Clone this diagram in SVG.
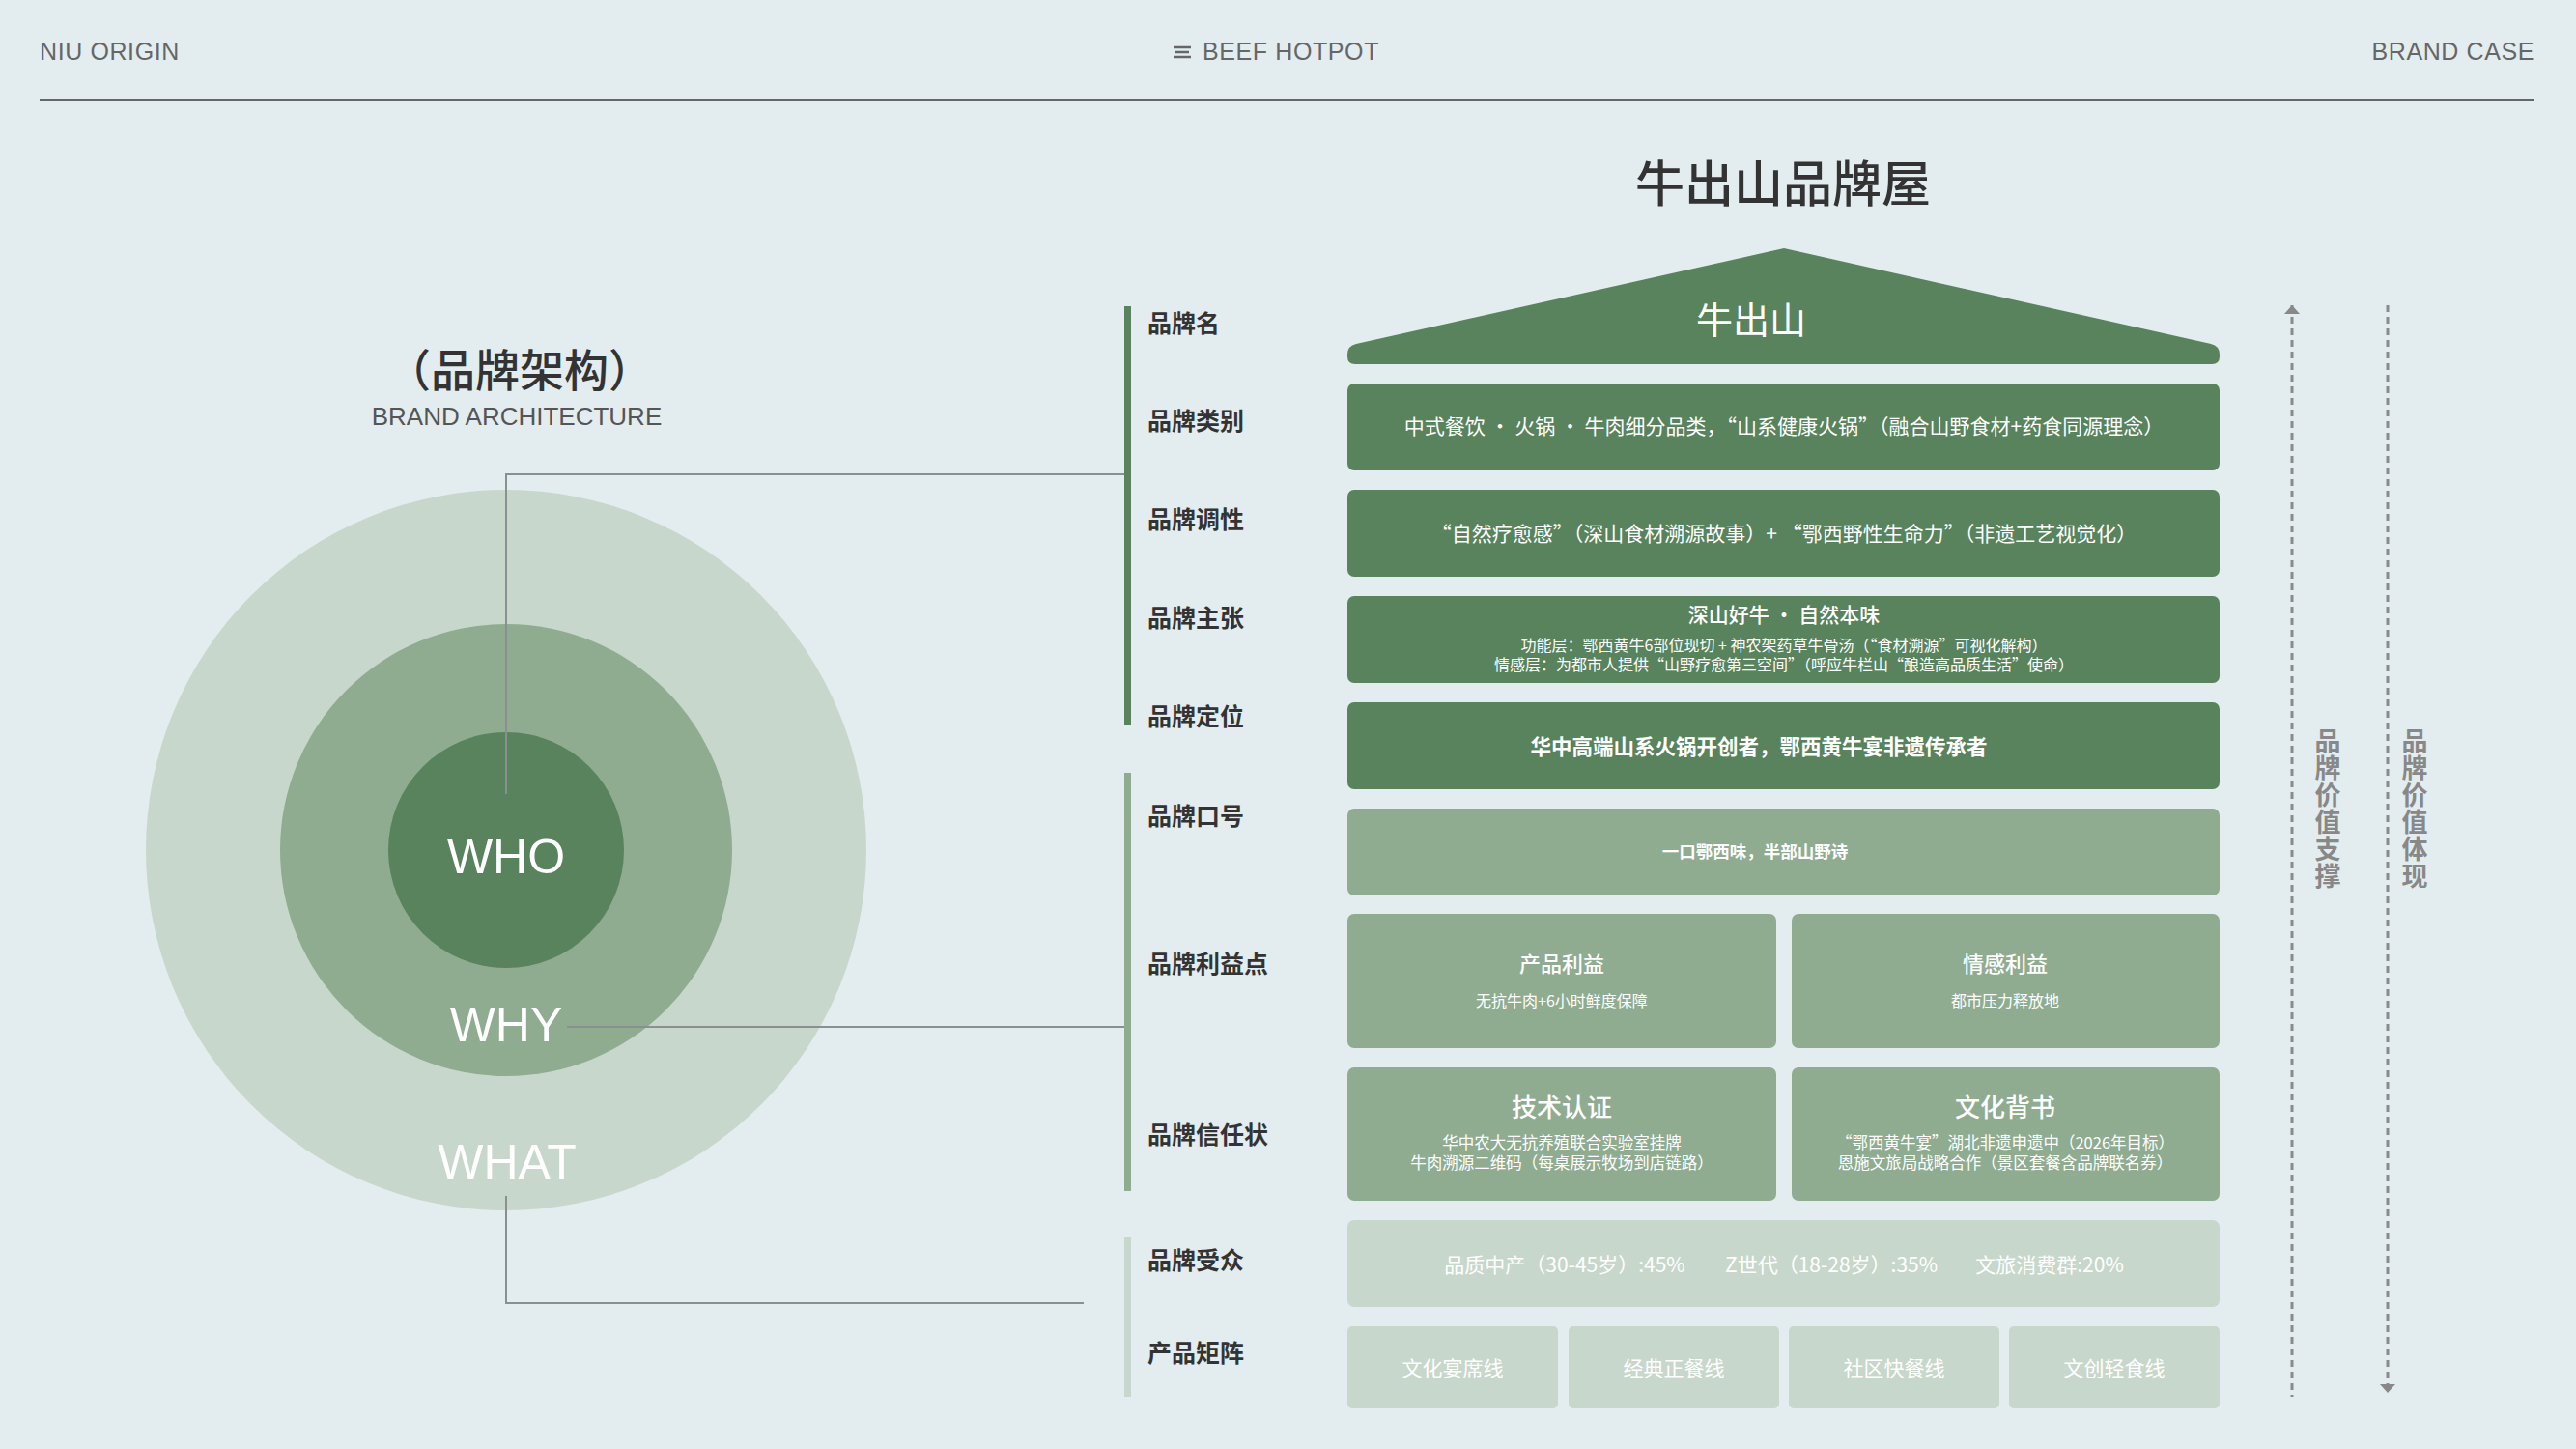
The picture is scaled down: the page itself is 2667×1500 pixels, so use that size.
<svg xmlns="http://www.w3.org/2000/svg" width="2667" height="1500" viewBox="0 0 2667 1500">
<defs>
<style>
.hdr{font-family:"Liberation Sans","Noto Sans",sans-serif;font-size:25px;letter-spacing:0.6px;fill:#666}
.cjk{font-family:"Noto Sans CJK SC","Noto Sans",sans-serif}
.lbl{font-family:"Noto Sans CJK SC",sans-serif;font-size:25px;font-weight:700;fill:#333}
.bt{font-family:"Noto Sans CJK SC",sans-serif;fill:#fff;text-anchor:middle}
.dk{fill:#58835d}
.md{fill:#8fac91}
.lt{fill:#c8d7cb}
.conn{stroke:#8a8f92;stroke-width:2;fill:none}
.dash{stroke:#8a8a8a;stroke-width:3;stroke-dasharray:7 5;fill:none}
.vt{font-family:"Noto Sans CJK SC",sans-serif;font-size:27px;font-weight:700;fill:#888;writing-mode:vertical-rl;letter-spacing:1px}
.big{font-family:"Liberation Sans","Noto Sans",sans-serif;font-size:50px;fill:#fff;text-anchor:middle}
</style>
<marker id="arr" viewBox="0 0 9 16" markerWidth="9" markerHeight="16" refX="9" refY="8" orient="auto-start-reverse" markerUnits="userSpaceOnUse">
<path d="M0,0 L9,8 L0,16 Z" fill="#888"/>
</marker>
</defs>
<rect width="2667" height="1500" fill="#e3edef"/>

<g id="header">
<text class="hdr" x="41" y="62">NIU ORIGIN</text>
<g stroke="#666" stroke-width="2.5">
<line x1="1215" y1="49" x2="1233" y2="49"/>
<line x1="1217" y1="54" x2="1231" y2="54"/>
<line x1="1215" y1="59" x2="1233" y2="59"/>
</g>
<text class="hdr" x="1245" y="62">BEEF HOTPOT</text>
<text class="hdr" x="2624" y="62" text-anchor="end">BRAND CASE</text>
<line x1="41" y1="104" x2="2624" y2="104" stroke="#666" stroke-width="2"/>
</g>

<g id="arch-title">
<text class="cjk" x="538" y="400" font-size="46" font-weight="500" fill="#333" text-anchor="middle">（品牌架构）</text>
<text x="535" y="440" font-family="Liberation Sans, Noto Sans, sans-serif" font-size="26" fill="#555" text-anchor="middle">BRAND ARCHITECTURE</text>
</g>

<g id="circle-what"><circle cx="524" cy="880" r="373" class="lt"/></g>
<g id="circle-why"><circle cx="524" cy="880" r="234" class="md"/></g>
<g id="circle-who"><circle cx="524" cy="880" r="122" class="dk"/></g>

<g id="connectors">
<polyline class="conn" points="524,822 524,491 1164,491"/>
<line class="conn" x1="587" y1="1063" x2="1164" y2="1063"/>
<polyline class="conn" points="524,1238 524,1349 1122,1349"/>
<line class="dash" x1="2373" y1="316" x2="2373" y2="1446" marker-start="url(#arr)"/>
<line class="dash" x1="2472" y1="316" x2="2472" y2="1442" marker-end="url(#arr)"/>
</g>

<g id="circle-labels">
<text class="big" x="524" y="904">WHO</text>
<text class="big" x="524" y="1078">WHY</text>
<text class="big" x="525" y="1220">WHAT</text>
</g>

<g id="side-bars">
<rect x="1164" y="317" width="7" height="434" class="dk"/>
<rect x="1164" y="800" width="7" height="433" class="md"/>
<rect x="1164" y="1281" width="7" height="165" class="lt"/>
</g>

<g id="labels">
<text class="lbl" x="1188" y="344">品牌名</text>
<text class="lbl" x="1188" y="445">品牌类别</text>
<text class="lbl" x="1188" y="547">品牌调性</text>
<text class="lbl" x="1188" y="649">品牌主张</text>
<text class="lbl" x="1188" y="751">品牌定位</text>
<text class="lbl" x="1188" y="854">品牌口号</text>
<text class="lbl" x="1188" y="1007">品牌利益点</text>
<text class="lbl" x="1188" y="1184">品牌信任状</text>
<text class="lbl" x="1188" y="1314">品牌受众</text>
<text class="lbl" x="1188" y="1410">产品矩阵</text>
</g>

<g id="house-title">
<text class="cjk" x="1846" y="209" font-size="51" font-weight="500" fill="#333" text-anchor="middle">牛出山品牌屋</text>
</g>

<g id="roof">
<path class="dk" d="M1847,257 L2289,356 Q2298,358 2298,367 L2298,369 Q2298,377 2290,377 L1403,377 Q1395,377 1395,369 L1395,367 Q1395,358 1404,356 Z"/>
<text class="bt" x="1813" y="345" font-size="38">牛出山</text>
</g>

<g id="row-category">
<rect class="dk" x="1395" y="397" width="903" height="90" rx="7"/>
<text class="bt" x="1847" y="449" font-size="21">中式餐饮 · 火锅 · 牛肉细分品类，“山系健康火锅”（融合山野食材+药食同源理念）</text>
</g>

<g id="row-tone">
<rect class="dk" x="1395" y="507" width="903" height="90" rx="7"/>
<text class="bt" x="1847" y="560" font-size="21">“自然疗愈感”（深山食材溯源故事）+ “鄂西野性生命力”（非遗工艺视觉化）</text>
</g>

<g id="row-claim">
<rect class="dk" x="1395" y="617" width="903" height="90" rx="7"/>
<text class="bt" x="1847" y="644" font-size="21" font-weight="500">深山好牛 · 自然本味</text>
<text class="bt" x="1847" y="674" font-size="16">功能层：鄂西黄牛6部位现切 + 神农架药草牛骨汤（“食材溯源”可视化解构）</text>
<text class="bt" x="1847" y="694" font-size="16">情感层：为都市人提供“山野疗愈第三空间”（呼应牛栏山“酿造高品质生活”使命）</text>
</g>

<g id="row-position">
<rect class="dk" x="1395" y="727" width="903" height="90" rx="7"/>
<text class="bt" x="1821" y="781" font-size="21.5" font-weight="700">华中高端山系火锅开创者，鄂西黄牛宴非遗传承者</text>
</g>

<g id="row-slogan">
<rect class="md" x="1395" y="837" width="903" height="90" rx="7"/>
<text class="bt" x="1817" y="888" font-size="17.5" font-weight="700">一口鄂西味，半部山野诗</text>
</g>

<g id="benefit-product">
<rect class="md" x="1395" y="946" width="444" height="139" rx="7"/>
<text class="bt" x="1617" y="1006" font-size="22" font-weight="500">产品利益</text>
<text class="bt" x="1617" y="1042" font-size="16">无抗牛肉+6小时鲜度保障</text>
</g>
<g id="benefit-emotion">
<rect class="md" x="1855" y="946" width="443" height="139" rx="7"/>
<text class="bt" x="2076" y="1006" font-size="22" font-weight="500">情感利益</text>
<text class="bt" x="2076" y="1042" font-size="16">都市压力释放地</text>
</g>

<g id="trust-tech">
<rect class="md" x="1395" y="1105" width="444" height="138" rx="7"/>
<text class="bt" x="1617" y="1156" font-size="26" font-weight="500">技术认证</text>
<text class="bt" x="1617" y="1189" font-size="16.5">华中农大无抗养殖联合实验室挂牌</text>
<text class="bt" x="1617" y="1210" font-size="16.5">牛肉溯源二维码（每桌展示牧场到店链路）</text>
</g>
<g id="trust-culture">
<rect class="md" x="1855" y="1105" width="443" height="138" rx="7"/>
<text class="bt" x="2076" y="1156" font-size="26" font-weight="500">文化背书</text>
<text class="bt" x="2076" y="1189" font-size="16.5">“鄂西黄牛宴”湖北非遗申遗中（2026年目标）</text>
<text class="bt" x="2076" y="1210" font-size="16.5">恩施文旅局战略合作（景区套餐含品牌联名券）</text>
</g>

<g id="row-audience">
<rect class="lt" x="1395" y="1263" width="903" height="90" rx="7"/>
<text class="bt" x="1620" y="1317" font-size="21">品质中产（30-45岁）:45%</text>
<text class="bt" x="1896" y="1317" font-size="21">Z世代（18-28岁）:35%</text>
<text class="bt" x="2122" y="1317" font-size="21">文旅消费群:20%</text>
</g>

<g id="product-1"><rect class="lt" x="1395" y="1373" width="218" height="85" rx="5"/><text class="bt" x="1504" y="1424" font-size="21">文化宴席线</text></g>
<g id="product-2"><rect class="lt" x="1624" y="1373" width="218" height="85" rx="5"/><text class="bt" x="1733" y="1424" font-size="21">经典正餐线</text></g>
<g id="product-3"><rect class="lt" x="1852" y="1373" width="218" height="85" rx="5"/><text class="bt" x="1961" y="1424" font-size="21">社区快餐线</text></g>
<g id="product-4"><rect class="lt" x="2080" y="1373" width="218" height="85" rx="5"/><text class="bt" x="2189" y="1424" font-size="21">文创轻食线</text></g>

<g id="value-support">
<text class="vt" x="2410" y="753">品牌价值支撑</text>
</g>
<g id="value-show">
<text class="vt" x="2500" y="753">品牌价值体现</text>
</g>
</svg>
